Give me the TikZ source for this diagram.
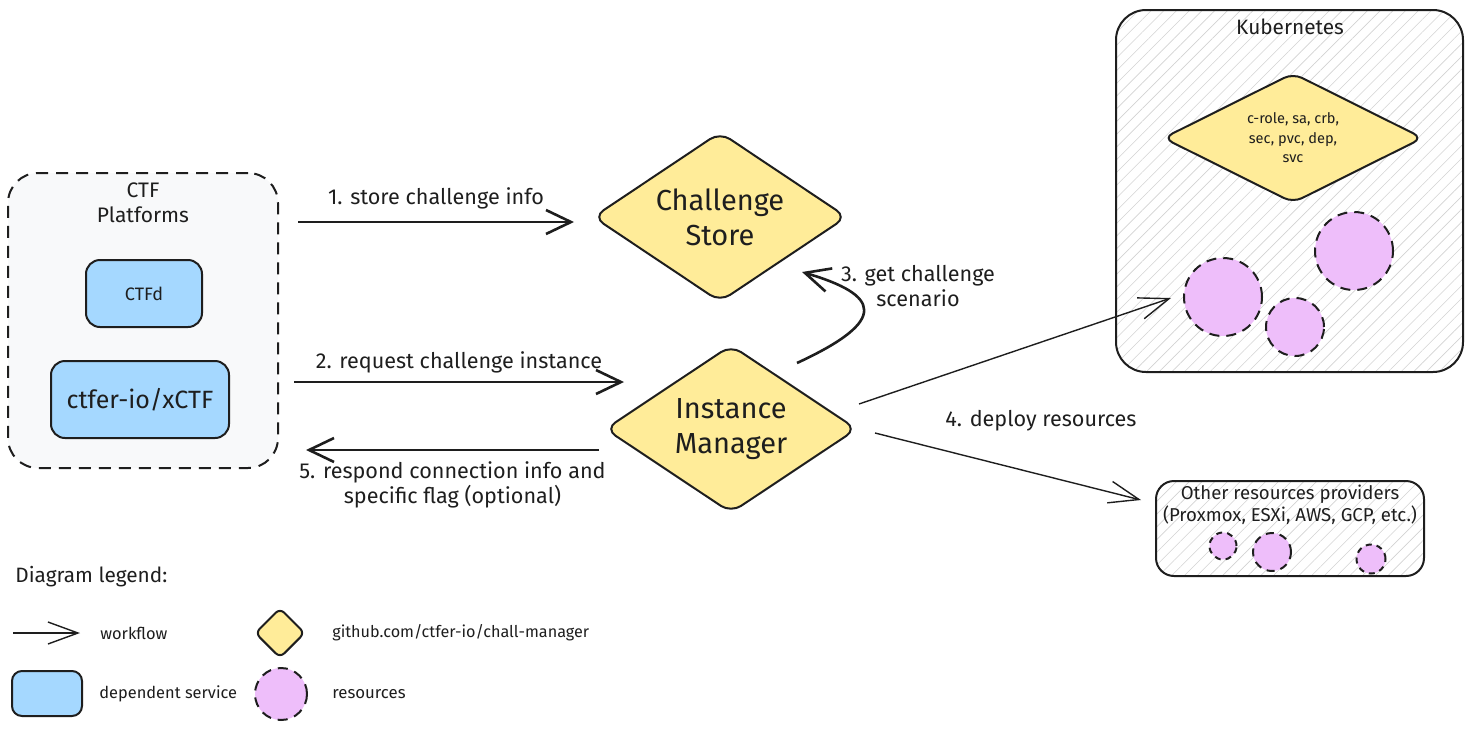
\documentclass[tikz,border=0pt]{standalone}
\usepackage{fontspec}
\setmainfont{Fira Sans}
\usetikzlibrary{shapes.geometric,arrows.meta,positioning,calc,patterns.meta}
\definecolor{ink}{HTML}{1E1E1E}
\definecolor{yel}{HTML}{FFEC99}
\definecolor{blu}{HTML}{A5D8FF}
\definecolor{pnk}{HTML}{EEBEFA}
\definecolor{pale}{HTML}{F8F9FA}

\begin{document}
\begin{tikzpicture}[x=0.5pt, y=-0.5pt, ink,
    lbl/.style={font=\fontsize{10.8}{12.5}\selectfont, inner sep=1pt},
    svc/.style={draw=ink, fill=blu, rounded corners=7pt, line width=1pt},
    zone/.style={draw=ink, rounded corners=15pt, line width=1pt},
    hatch/.style={pattern={Lines[angle=45, distance=4.5pt, line width=0.3pt]}, pattern color=gray!35},
    mgr/.style={diamond, aspect=1.5, draw=ink, fill=yel, rounded corners=6pt, line width=1pt, inner sep=0pt, align=center},
    res/.style={circle, draw=ink, fill=pnk, dash pattern=on 5pt off 3.5pt, line width=1pt, inner sep=0pt},
    flow/.style={-{Straight Barb[length=12.5pt, width=12pt]}, line width=1.3pt},
    deploy/.style={-{Straight Barb[length=15pt, width=11pt]}, line width=0.7pt}]
    \useasboundingbox (0,0) rectangle (1473,729);

    % CTF platforms
    \node[zone, dash pattern=on 6pt off 4pt, fill=pale, minimum width=135pt, minimum height=147.5pt] (plat) at (143,320.5) {};
    \node[lbl, align=center, font=\fontsize{10.5}{12.5}\selectfont] (platname) at (143,203) {CTF\\Platforms};
    \node[svc, minimum width=58pt, minimum height=33.5pt, font=\fontsize{9}{10}\selectfont] (ctfd) at (144,293.5) {CTFd};
    \node[svc, minimum width=89pt, minimum height=38.5pt, font=\fontsize{12.5}{14}\selectfont] (xctf) at (140,399.5) {ctfer-io/xCTF};

    % chall-manager
    \node[mgr, minimum width=127pt, minimum height=85pt, font=\fontsize{14.5}{17.5}\selectfont] (store) at (720,217) {Challenge\\Store};
    \node[mgr, minimum width=126pt, minimum height=84pt, font=\fontsize{14.5}{17.5}\selectfont] (im) at (731,429) {Instance\\Manager};

    % Kubernetes
    \node[zone, hatch, minimum width=173.5pt, minimum height=181pt] (k8s) at (1289.5,191) {};
    \node[lbl, font=\fontsize{10.4}{12}\selectfont] (k8sname) at (1290,27) {Kubernetes};
    \node[mgr, aspect=2, minimum width=130pt, minimum height=65pt, rounded corners=5pt, font=\fontsize{7.3}{9.7}\selectfont] (objs) at (1293,138) {c-role, sa, crb,\\sec, pvc, dep,\\svc};
    \node[res, minimum size=39pt] (pod1) at (1223,297) {};
    \node[res, minimum size=39pt] (pod2) at (1354,251) {};
    \node[res, minimum size=29pt] (pod3) at (1295,327) {};

    % other providers
    \node[zone, hatch, rounded corners=9pt, minimum width=134pt, minimum height=47.5pt] (other) at (1290,528.5) {};
    \node[lbl, align=center, font=\fontsize{9.3}{9}\selectfont] (othername) at (1290,505) {Other resources providers\\(Proxmox, ESXi, AWS, GCP, etc.)};
    \node[res, minimum size=13.5pt, dash pattern=on 3pt off 2.5pt] (vm1) at (1223,546) {};
    \node[res, minimum size=19pt, dash pattern=on 4pt off 3pt] (vm2) at (1272,552) {};
    \node[res, minimum size=14.5pt, dash pattern=on 3pt off 2.5pt] (vm3) at (1371,559) {};

    % workflow
    \draw[flow] ($(plat.east)+(19,-98.5)$) -- node[lbl, above=5pt] (l1) {1. store challenge info} ($(store.west)+(-18,5)$);
    \draw[flow] ($(plat.east)+(15,61.5)$) -- node[lbl, above=3pt] (l2) {2. request challenge instance} ($(im.west)+(20,-47)$);
    \draw[flow] ($(im.north)+(66,19)$) .. controls (890,320) and (880,295) .. ($(store.south)+(82,-31)$);
    \node[lbl, align=center] (l3) at (918,286) {3. get challenge\\scenario};
    \draw[deploy] ($(im.east)+(1,-25)$) -- ($(pod1.west)+(-12,1)$);
    \draw[deploy] ($(im.east)+(17,4)$) -- ($(other.west)+(-14,-28.5)$);
    \node[lbl] (l4) at (1041,421) {4. deploy resources};
    \draw[flow] ($(im.west)+(-5,21)$) -- node[lbl, below=4pt, align=center] (l5) {5. respond connection info and\\specific flag (optional)} ($(plat.east)+(27,129.5)$);

    % legend
    \node[lbl, anchor=west, font=\fontsize{10.4}{12}\selectfont] (lgtitle) at (13,577) {Diagram legend:};
    \node[lbl, anchor=west, font=\fontsize{8.2}{10}\selectfont] (lgflow) at (98,633) {workflow};
    \draw[deploy] ($(lgflow.west)+(-85,0)$) -- ($(lgflow.west)+(-18,0)$);
    \node[svc, minimum width=35pt, minimum height=22.5pt, rounded corners=5pt] (lgsvc) at (47,693.5) {};
    \node[lbl, right=7pt of lgsvc, font=\fontsize{8.2}{10}\selectfont] (lgsvctext) {dependent service};
    \node[mgr, aspect=1, minimum width=25pt, minimum height=25pt, rounded corners=3pt] (lgmgr) at (280,633) {};
    \node[lbl, right=12pt of lgmgr, font=\fontsize{8.1}{10}\selectfont] (lgmgrtext) {github.com/ctfer-io/chall-manager};
    \node[res, minimum size=26pt] (lgres) at (281,694) {};
    \node[lbl, right=11pt of lgres, font=\fontsize{8.4}{10}\selectfont] (lgrestext) {resources};
\end{tikzpicture}
\end{document}
